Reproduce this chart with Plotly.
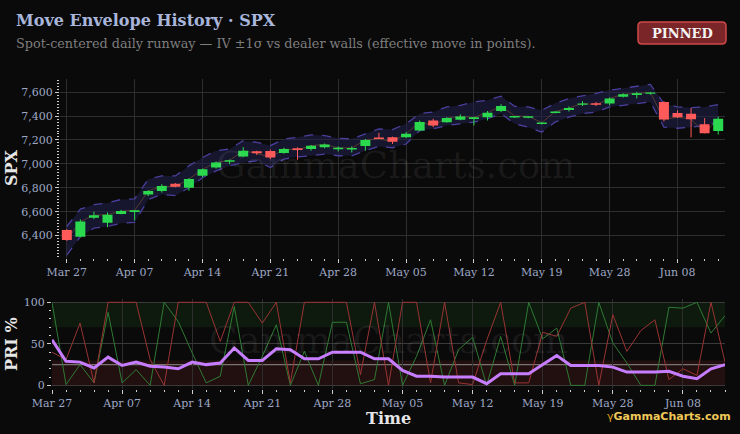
import plotly.graph_objects as go

# ---------------- data ----------------
dates = ["Mar 27", "Mar 28", "Mar 31", "Apr 01", "Apr 04", "Apr 07", "Apr 08", "Apr 09", "Apr 10", "Apr 11",
         "Apr 14", "Apr 15", "Apr 16", "Apr 17", "Apr 18", "Apr 21", "Apr 22", "Apr 23", "Apr 24", "Apr 25",
         "Apr 28", "Apr 29", "Apr 30", "May 01", "May 02", "May 05", "May 06", "May 07", "May 08", "May 09",
         "May 12", "May 13", "May 14", "May 15", "May 16", "May 19", "May 20", "May 21", "May 22", "May 23",
         "May 28", "May 29", "May 30", "Jun 02", "Jun 03", "Jun 08", "Jun 09", "Jun 10", "Jun 11"]

opens = [6447, 6391, 6550, 6508, 6580, 6598, 6744, 6774, 6834, 6800,
         6901, 6969, 7018, 7062, 7105, 7107, 7091, 7130, 7124, 7138,
         7122, 7121, 7150, 7220, 7223, 7223, 7279, 7363, 7349, 7369,
         7376, 7391, 7442, 7388, 7386, 7334, 7426, 7450, 7494, 7508,
         7505, 7562, 7576, 7586, 7518, 7425, 7420, 7332, 7276]
highs = [6455, 6535, 6600, 6594, 6615, 6612, 6780, 6830, 6840, 6880,
         6960, 7020, 7036, 7140, 7110, 7120, 7135, 7138, 7158, 7170,
         7146, 7146, 7209, 7259, 7228, 7265, 7363, 7378, 7390, 7414,
         7391, 7442, 7499, 7400, 7398, 7345, 7440, 7480, 7524, 7518,
         7555, 7590, 7603, 7600, 7525, 7448, 7467, 7383, 7395]
lows = [6355, 6385, 6538, 6470, 6578, 6527, 6730, 6760, 6805, 6775,
        6890, 6960, 6997, 7055, 7073, 7040, 7085, 7034, 7110, 7130,
        7104, 7095, 7110, 7209, 7166, 7217, 7273, 7307, 7345, 7365,
        7321, 7363, 7434, 7384, 7382, 7330, 7422, 7438, 7484, 7484,
        7490, 7555, 7547, 7580, 7355, 7383, 7222, 7256, 7245]
closes = [6364, 6518, 6570, 6575, 6605, 6611, 6772, 6814, 6809, 6873,
          6955, 7011, 7030, 7110, 7088, 7054, 7124, 7116, 7152, 7163,
          7134, 7133, 7200, 7208, 7186, 7251, 7350, 7321, 7383, 7397,
          7390, 7428, 7484, 7400, 7398, 7346, 7438, 7467, 7506, 7494,
          7547, 7582, 7590, 7598, 7372, 7391, 7374, 7256, 7378]

band_upper = [6476, 6622, 6659, 6673, 6702, 6707, 6871, 6899, 6899, 6983,
              7053, 7110, 7124, 7194, 7180, 7152, 7209, 7222, 7243, 7237,
              7214, 7209, 7251, 7293, 7287, 7335, 7420, 7434, 7476, 7490,
              7518, 7532, 7566, 7482, 7476, 7448, 7507, 7547, 7569, 7589,
              7617, 7631, 7651, 7665, 7504, 7476, 7471, 7476, 7496]
band_lower = [6237, 6392, 6462, 6476, 6504, 6510, 6702, 6744, 6735, 6800,
              6884, 6941, 6983, 7011, 7025, 6969, 7040, 7059, 7068, 7082,
              7068, 7068, 7110, 7146, 7135, 7166, 7279, 7293, 7321, 7335,
              7349, 7378, 7420, 7335, 7307, 7265, 7351, 7391, 7420, 7434,
              7476, 7490, 7504, 7518, 7307, 7298, 7307, 7321, 7349]

pri_green = [100, 1, 25, 3, 88, 3, 19, 0, 100, 77,
             39, 3, 11, 95, 0, 35, 73, 0, 41, 0,
             76, 76, 2, 7, 100, 0, 35, 79, 0, 43,
             58, 0, 59, 0, 100, 56, 69, 0, 0, 100,
             51, 27, 0, 0, 94, 93, 100, 63, 84]
pri_red = [40, 31, 75, 3, 100, 100, 100, 31, 0, 100,
           100, 100, 53, 100, 100, 75, 100, 3, 100, 100,
           100, 100, 13, 100, 0, 100, 100, 3, 100, 3,
           1, 54, 100, 3, 3, 64, 59, 93, 100, 0,
           85, 41, 66, 79, 7, 20, 12, 100, 28]
pri_avg = [55, 29, 28, 21, 34, 24, 28, 23, 22, 20,
           28, 25, 27, 45, 30, 30, 44, 43, 32, 32,
           40, 40, 40, 32, 32, 18, 11, 11, 10, 10,
           10, 2, 14, 14, 14, 25, 36, 24, 24, 24,
           22, 16, 16, 16, 17, 11, 8, 20, 25]

idx = list(range(len(dates)))

W, H = 740, 434
def px(x):
    return x / W
def py(y):
    return 1 - y / H

FONT = "DejaVu Serif"
TICK_COLOR = "#9ea8c6"
GRID = "#2e2e2e"
BG = "#0a0a0a"
UP = "#2bd94f"
DOWN = "#ff5a5a"

fig = go.Figure()

# envelope band
fig.add_trace(go.Scatter(x=idx, y=band_lower, mode="lines",
                         line=dict(color="#4a3f9c", width=1.3, dash="dash"),
                         hoverinfo="skip", xaxis="x", yaxis="y"))
fig.add_trace(go.Scatter(x=idx, y=band_upper, mode="lines", fill="tonexty",
                         fillcolor="rgba(32,32,78,0.55)",
                         line=dict(color="#4a3f9c", width=1.3, dash="dash"),
                         hoverinfo="skip", xaxis="x", yaxis="y"))
# spot line
fig.add_trace(go.Scatter(x=idx, y=closes, mode="lines",
                         line=dict(color="rgba(150,95,50,0.5)", width=1),
                         hoverinfo="skip", xaxis="x", yaxis="y"))

# candles (wicks + bodies) built from OHLC lists
for up, color in ((True, UP), (False, DOWN)):
    wx, wy, bx, by = [], [], [], []
    for i, o, h, l, c in zip(idx, opens, highs, lows, closes):
        if (c >= o) != up:
            continue
        wx += [i, i, None]
        wy += [l, h, None]
        bx += [i, i, None]
        by += [o, c, None]
    fig.add_trace(go.Scatter(x=wx, y=wy, mode="lines", line=dict(color=color, width=1),
                             hoverinfo="skip", xaxis="x", yaxis="y"))
    fig.add_trace(go.Scatter(x=bx, y=by, mode="lines", line=dict(color=color, width=10),
                             hoverinfo="skip", xaxis="x", yaxis="y"))

# PRI lines
fig.add_trace(go.Scatter(x=idx, y=pri_green, mode="lines",
                         line=dict(color="#2f7a34", width=1), xaxis="x2", yaxis="y2"))
fig.add_trace(go.Scatter(x=idx, y=pri_red, mode="lines",
                         line=dict(color="#9a3434", width=1), xaxis="x2", yaxis="y2"))
fig.add_trace(go.Scatter(x=idx, y=pri_avg, mode="lines",
                         line=dict(color="#c77dff", width=3), xaxis="x2", yaxis="y2"))

tickfont = dict(family=FONT, size=11, color=TICK_COLOR)

fig.update_layout(
    width=W, height=H, margin=dict(l=0, r=0, t=0, b=0),
    paper_bgcolor=BG, plot_bgcolor=BG, showlegend=False,
    font=dict(family=FONT, color=TICK_COLOR, size=11),
    xaxis=dict(domain=[px(60), px(725)], range=[-0.5, len(idx) - 0.5], anchor="y",
               tickmode="array", tickvals=idx[::5], ticktext=dates[::5],
               showgrid=True, gridcolor=GRID, zeroline=False, showline=False,
               ticks="outside", ticklen=4, tickcolor="#cfcfcf", tickfont=tickfont,
               minor=dict(dtick=1, ticks="outside", ticklen=2, tickcolor="#cfcfcf", showgrid=False),
               automargin=False),
    yaxis=dict(domain=[py(257.7), py(79)], range=[6215, 7710], anchor="x",
               dtick=200, tick0=6400, tickformat=",", showgrid=True, gridcolor=GRID,
               zeroline=False, showline=False, ticks="outside", ticklen=4, tickcolor="#cfcfcf",
               tickfont=tickfont,
               minor=dict(dtick=25, tick0=6400, ticks="outside", ticklen=2, tickcolor="#cfcfcf", showgrid=False),
               automargin=False),
    xaxis2=dict(domain=[px(52), px(725)], range=[0, len(idx) - 1], anchor="y2",
                tickmode="array", tickvals=idx[::5], ticktext=dates[::5],
                showgrid=True, gridcolor=GRID, zeroline=False, showline=False,
                ticks="outside", ticklen=4, tickcolor="#cfcfcf", tickfont=tickfont,
                minor=dict(dtick=1, ticks="outside", ticklen=2, tickcolor="#cfcfcf", showgrid=False),
                automargin=False),
    yaxis2=dict(domain=[py(388.7), py(299)], range=[-4, 104], anchor="x2",
                tickmode="array", tickvals=[0, 50, 100], showgrid=True, gridcolor="#3a3a3a",
                zeroline=False, showline=False, ticks="outside", ticklen=4, tickcolor="#cfcfcf",
                tickfont=tickfont,
                minor=dict(dtick=10, ticks="outside", ticklen=2, tickcolor="#cfcfcf", showgrid=False),
                automargin=False),
)

# rounded badge path
bx0, bx1, by0, by1 = px(638), px(726), py(44), py(22)
rx, ry = 4 / W, 4 / H
badge_path = (f"M {bx0+rx},{by0} L {bx1-rx},{by0} Q {bx1},{by0} {bx1},{by0+ry} "
              f"L {bx1},{by1-ry} Q {bx1},{by1} {bx1-rx},{by1} L {bx0+rx},{by1} "
              f"Q {bx0},{by1} {bx0},{by1-ry} L {bx0},{by0+ry} Q {bx0},{by0} {bx0+rx},{by0} Z")

shapes = [
    dict(type="rect", xref="x2 domain", yref="y2", x0=0, x1=1, y0=70, y1=100,
         fillcolor="rgba(25,70,25,0.28)", line=dict(width=0), layer="below"),
    dict(type="rect", xref="x2 domain", yref="y2", x0=0, x1=1, y0=0, y1=30,
         fillcolor="rgba(80,30,30,0.35)", line=dict(width=0), layer="below"),
    dict(type="line", xref="x2 domain", yref="y2", x0=0, x1=1, y0=25, y1=25,
         line=dict(color="#7a7272", width=1.2), layer="below"),
    dict(type="path", xref="paper", yref="paper", path=badge_path,
         fillcolor="#7a2628", line=dict(color="#d04a4a", width=1.5)),
]
fig.update_layout(shapes=shapes)

ann = [
    dict(text="<b>Move Envelope History · SPX</b>", x=px(14), y=py(21), xanchor="left", yanchor="middle",
         font=dict(family=FONT, size=16, color="#a9b6dc")),
    dict(text="Spot-centered daily runway — IV ±1σ vs dealer walls (effective move in points).",
         x=px(14), y=py(43.5), xanchor="left", yanchor="middle",
         font=dict(family=FONT, size=12.8, color="#7e7e7e")),
    dict(text="<b>PINNED</b>", x=px(682), y=py(33.5), xanchor="center", yanchor="middle",
         font=dict(family=FONT, size=13, color="#f4f4f4")),
    dict(text="<b>SPX</b>", x=px(11), y=py(168), textangle=-90, xanchor="center", yanchor="middle",
         font=dict(family=FONT, size=16, color="#e6e6e6")),
    dict(text="<b>PRI %</b>", x=px(11), y=py(344), textangle=-90, xanchor="center", yanchor="middle",
         font=dict(family=FONT, size=16, color="#e6e6e6")),
    dict(text="<b>Time</b>", x=px(388), y=py(418), xanchor="center", yanchor="middle",
         font=dict(family=FONT, size=16, color="#e6e6e6")),
    dict(text="GammaCharts.com", x=px(395), y=py(165), xanchor="center", yanchor="middle",
         font=dict(family=FONT, size=37, color="rgba(255,255,255,0.065)")),
    dict(text="GammaCharts.com", x=px(389), y=py(340), xanchor="center", yanchor="middle",
         font=dict(family=FONT, size=37, color="rgba(255,255,255,0.065)")),
    dict(text="<span style='color:#e0a020'>γ</span><b>GammaCharts.com</b>",
         x=px(733), y=py(416), xanchor="right", yanchor="middle",
         font=dict(family="DejaVu Sans", size=11, color="#f0c858")),
]
for a in ann:
    a.setdefault("xref", "paper")
    a.setdefault("yref", "paper")
    a["showarrow"] = False
fig.update_layout(annotations=ann)

fig.write_html("out.html")
